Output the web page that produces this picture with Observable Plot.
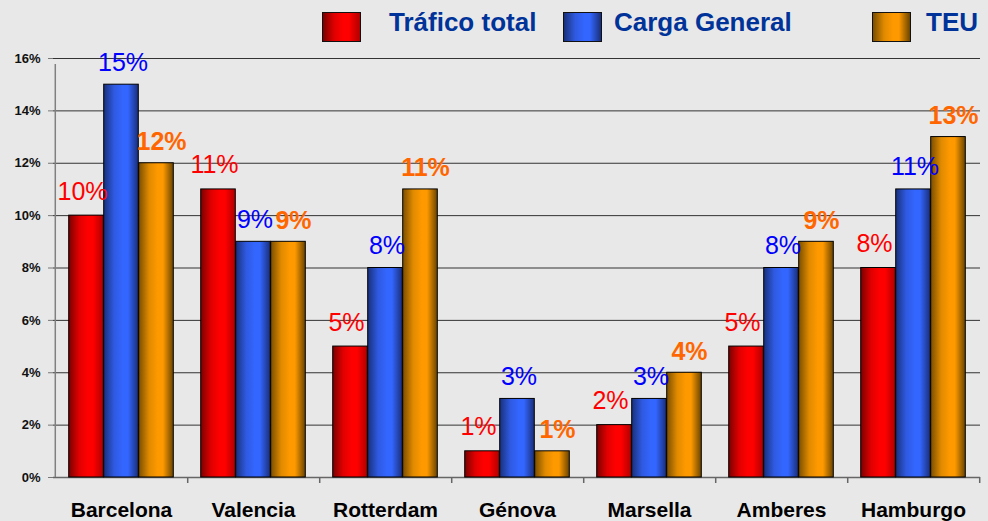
<!DOCTYPE html>
<html>
<head>
<meta charset="utf-8">
<script src="https://cdn.jsdelivr.net/npm/d3@7"></script>
<script src="https://cdn.jsdelivr.net/npm/@observablehq/plot@0.6"></script>
<style>
  html, body { margin: 0; padding: 0; background: #e8e8e8; }
  #wrap { position: relative; width: 988px; height: 521px; overflow: hidden; font-family: "Liberation Sans", Arial, sans-serif; }
  #legend { position: relative; width: 988px; height: 48px; }
  .box { position: absolute; top: 12px; width: 37px; height: 28px; border: 1.5px solid #111; }
  .lt { position: absolute; top: 9px; font: bold 26px "Liberation Sans", Arial, sans-serif; line-height: 26px; color: #003399; white-space: nowrap; }
</style>
</head>
<body>
<div id="wrap">
  <div id="legend"></div>
  <div id="chart"></div>
</div>
<script>
// ---- data ----
const ports = ["Barcelona", "Valencia", "Rotterdam", "Génova", "Marsella", "Amberes", "Hamburgo"];
const seriesNames = ["Tráfico total", "Carga General", "TEU"];
const traficoTotal = [10, 11, 5, 1, 2, 5, 8];
const cargaGeneral = [15, 9, 8, 3, 3, 8, 11];
const teu = [12, 9, 11, 1, 4, 9, 13];
const yTicks = [0, 2, 4, 6, 8, 10, 12, 14, 16];

// ---- styling ----
const seriesStyle = {
  "Tráfico total": {grad: "gRed", css: "linear-gradient(to right,#7a0000 0%,#e00000 30%,#ff0000 55%,#ff0000 70%,#b00000 100%)", label: "#ff0000", weight: "normal", dx: -35, ldx: -4, gap: 16},
  "Carga General": {grad: "gBlue", css: "linear-gradient(to right,#18307a 0%,#2f5ae0 30%,#3366ff 55%,#3366ff 70%,#1a2e78 100%)", label: "#0000ff", weight: "normal", dx: 0, ldx: 1.5, gap: 14},
  "TEU": {grad: "gOrange", css: "linear-gradient(to right,#7a4e00 0%,#e08a00 30%,#ff9900 55%,#ff9900 70%,#6a4400 100%)", label: "#ff6600", weight: "bold", dx: 35, ldx: 5, gap: 13}
};
const valuesBySeries = {"Tráfico total": traficoTotal, "Carga General": cargaGeneral, "TEU": teu};
const rows = seriesNames.flatMap(s => ports.map((p, i) => ({port: p, series: s, value: valuesBySeries[s][i]})));

// ---- legend (HTML above the svg) ----
const legendPos = [
  {box: 322, text: 389},
  {box: 563, text: 614},
  {box: 872, text: 926}
];
const legend = d3.select("#legend");
seriesNames.forEach((s, i) => {
  legend.append("div").attr("class", "box")
    .style("left", legendPos[i].box + "px")
    .style("background", seriesStyle[s].css);
  legend.append("div").attr("class", "lt")
    .style("left", legendPos[i].text + "px")
    .text(s);
});

// ---- chart ----
const W = 988, H = 473;
const mL = 53, mR = 8, mT = 10, mB = 44;
const step = (W - mL - mR) / ports.length;
const barW = 35;
const inset = (step - barW) / 2;

const marks = [
  Plot.gridY({ticks: yTicks, stroke: "#333", strokeOpacity: 1, strokeWidth: 1}),
  Plot.axisY({ticks: yTicks, tickFormat: d => d + "%", fontSize: 13, fontWeight: "bold", tickSize: 5, tickPadding: 8, stroke: "#777", fill: "#111"}),
  Plot.ruleY([0], {stroke: "#666", strokeWidth: 1.5}),
  Plot.ruleX([ports[0]], {x: d => d, dx: -step / 2, y1: 0, y2: 16, insetBottom: -6, stroke: "#808080", strokeWidth: 1.5}),
  Plot.ruleX(ports, {x: d => d, dx: step / 2, y1: 0, y2: 0, insetBottom: -6, stroke: "#666", strokeWidth: 1.5}),
  Plot.axisX({tickSize: 0, tickPadding: 25, fontSize: 21, fontWeight: "bold", fill: "#000"})
];
seriesNames.forEach(s => {
  const st = seriesStyle[s];
  const data = rows.filter(r => r.series === s);
  marks.push(Plot.barY(data, {x: "port", y: "value", dx: st.dx, insetLeft: inset, insetRight: inset, fill: `url(#${st.grad})`, stroke: "#000", strokeWidth: 1}));
});
seriesNames.forEach(s => {
  const st = seriesStyle[s];
  const data = rows.filter(r => r.series === s);
  marks.push(Plot.text(data, {x: "port", y: "value", text: d => d.value + "%", dx: st.dx + st.ldx, dy: -st.gap, lineAnchor: "bottom", textAnchor: "middle", fontSize: 25, fontWeight: st.weight, fill: st.label}));
});

const chart = Plot.plot({
  width: W,
  height: H,
  marginLeft: mL,
  marginRight: mR,
  marginTop: mT,
  marginBottom: mB,
  style: {background: "transparent", fontFamily: "'Liberation Sans', Arial, sans-serif", overflow: "visible", color: "#000"},
  x: {domain: ports, padding: 0, label: null},
  y: {domain: [0, 16], label: null},
  marks
});

// gradient definitions for the cylinder-like bar shading
const svg = d3.select(chart);
const defs = svg.insert("defs", ":first-child");
const grads = {
  gRed: [["0%", "#7a0000"], ["30%", "#e00000"], ["55%", "#ff0000"], ["70%", "#ff0000"], ["100%", "#b00000"]],
  gBlue: [["0%", "#18307a"], ["30%", "#2f5ae0"], ["55%", "#3366ff"], ["70%", "#3366ff"], ["100%", "#1a2e78"]],
  gOrange: [["0%", "#7a4e00"], ["30%", "#e08a00"], ["55%", "#ff9900"], ["70%", "#ff9900"], ["100%", "#6a4400"]]
};
Object.entries(grads).forEach(([id, stops]) => {
  const g = defs.append("linearGradient").attr("id", id).attr("x1", "0").attr("x2", "1").attr("y1", "0").attr("y2", "0");
  stops.forEach(([o, c]) => g.append("stop").attr("offset", o).attr("stop-color", c));
});

document.getElementById("chart").appendChild(chart);
</script>
</body>
</html>
